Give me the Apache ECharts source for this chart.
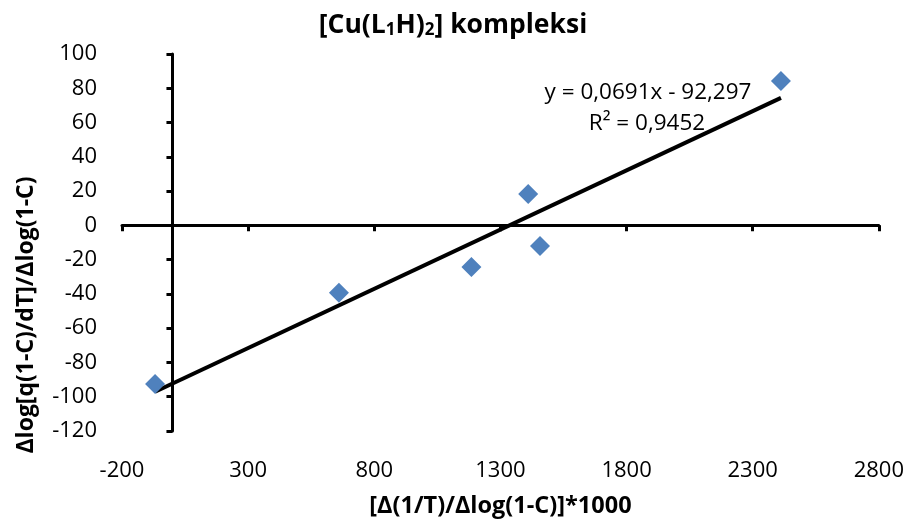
<!DOCTYPE html>
<html>
<head>
<meta charset="utf-8">
<script src="https://cdn.jsdelivr.net/npm/echarts@6/dist/echarts.min.js"></script>
<style>html,body{margin:0;padding:0;background:#fff}#c{width:907px;height:526px}</style>
</head>
<body>
<div id="c"></div>
<script>
// Data
var xValues = [-69, 660, 1185, 1410, 1457, 2412];
var yValues = [-92.5, -39.3, -24.3, 18.3, -12, 84.3];
// Trendline coefficients as printed on the chart
var trendSlope = 0.0691;
var trendIntercept = -92.297;
var trendText = ['y = 0,0691x - 92,297', 'R\u00b2 = 0,9452'];
var xTicks = {min: -200, max: 2800, interval: 500};
var yTicks = {min: -120, max: 100, interval: 20};
var xName = '[\u0394(1/T)/\u0394log(1-C)]*1000';
var yName = '\u0394log[q(1-C)/dT]/\u0394log(1-C)';

var points = xValues.map(function (x, i) { return [x, yValues[i]]; });
var xMin = Math.min.apply(null, xValues), xMax = Math.max.apply(null, xValues);
var trend = [[xMin, trendSlope * xMin + trendIntercept], [xMax, trendSlope * xMax + trendIntercept]];

var FONT = 'Open Sans';
var plain = function (v) { return String(v); };
var chart = echarts.init(document.getElementById('c'));
chart.setOption({
  animation: false,
  backgroundColor: '#fff',
  textStyle: {fontFamily: FONT},
  grid: {left: 122, right: 27, top: 54, bottom: 95},
  graphic: [
    {type: 'text', x: 453, y: 22, style: {
      text: '{b|[Cu(L}{s|1}{b|H)}{s|2}{b|] kompleksi}',
      align: 'center', verticalAlign: 'middle',
      rich: {
        b: {fontFamily: FONT, fontSize: 26.5, fontWeight: 'bold', fill: '#000', verticalAlign: 'bottom', lineHeight: 33},
        s: {fontFamily: FONT, fontSize: 17, fontWeight: 'bold', fill: '#000', verticalAlign: 'bottom', lineHeight: 15}
      }
    }},
    {type: 'text', x: 648, y: 93, style: {text: trendText[0], align: 'center', verticalAlign: 'middle', fontFamily: FONT, fontSize: 22.5, fill: '#000'}},
    {type: 'text', x: 647, y: 124, style: {text: trendText[1], align: 'center', verticalAlign: 'middle', fontFamily: FONT, fontSize: 22.5, fill: '#000'}},
    {type: 'text', x: 26, y: 315, rotation: Math.PI / 2, style: {text: yName, align: 'center', verticalAlign: 'middle', fontFamily: FONT, fontSize: 23, fontWeight: 'bold', fill: '#000'}}
  ],
  xAxis: [
    {type: 'value', min: xTicks.min, max: xTicks.max, interval: xTicks.interval, position: 'bottom',
     axisLine: {show: false, onZero: false}, axisTick: {show: false}, splitLine: {show: false},
     axisLabel: {margin: 29, fontSize: 22, color: '#000', fontFamily: FONT, formatter: plain},
     name: xName, nameLocation: 'middle', nameGap: 63,
     nameTextStyle: {fontSize: 23.5, fontWeight: 'bold', color: '#000', fontFamily: FONT}},
    {type: 'value', min: xTicks.min, max: xTicks.max, interval: xTicks.interval, position: 'bottom',
     axisLine: {show: true, onZero: true, onZeroAxisIndex: 0, lineStyle: {color: '#000', width: 3}},
     axisTick: {show: true, length: 6, lineStyle: {color: '#000', width: 3}},
     axisLabel: {show: false}, splitLine: {show: false}}
  ],
  yAxis: [
    {type: 'value', min: yTicks.min, max: yTicks.max, interval: yTicks.interval, position: 'left',
     axisLine: {show: false, onZero: false}, axisTick: {show: false}, splitLine: {show: false},
     axisLabel: {margin: 25, fontSize: 22, color: '#000', fontFamily: FONT, formatter: plain}},
    {type: 'value', min: yTicks.min, max: yTicks.max, interval: yTicks.interval, position: 'left',
     axisLine: {show: true, onZero: true, onZeroAxisIndex: 0, lineStyle: {color: '#000', width: 3}},
     axisTick: {show: true, length: 6, lineStyle: {color: '#000', width: 3}},
     axisLabel: {show: false}, splitLine: {show: false}}
  ],
  series: [
    {type: 'line', data: trend, xAxisIndex: 0, yAxisIndex: 0, symbol: 'none',
     lineStyle: {color: '#000', width: 4}, z: 3, silent: true},
    {type: 'scatter', data: points, xAxisIndex: 0, yAxisIndex: 0, symbol: 'diamond', symbolSize: 20,
     itemStyle: {color: '#4F81BD', opacity: 1}, z: 4}
  ]
});
</script>
</body>
</html>
